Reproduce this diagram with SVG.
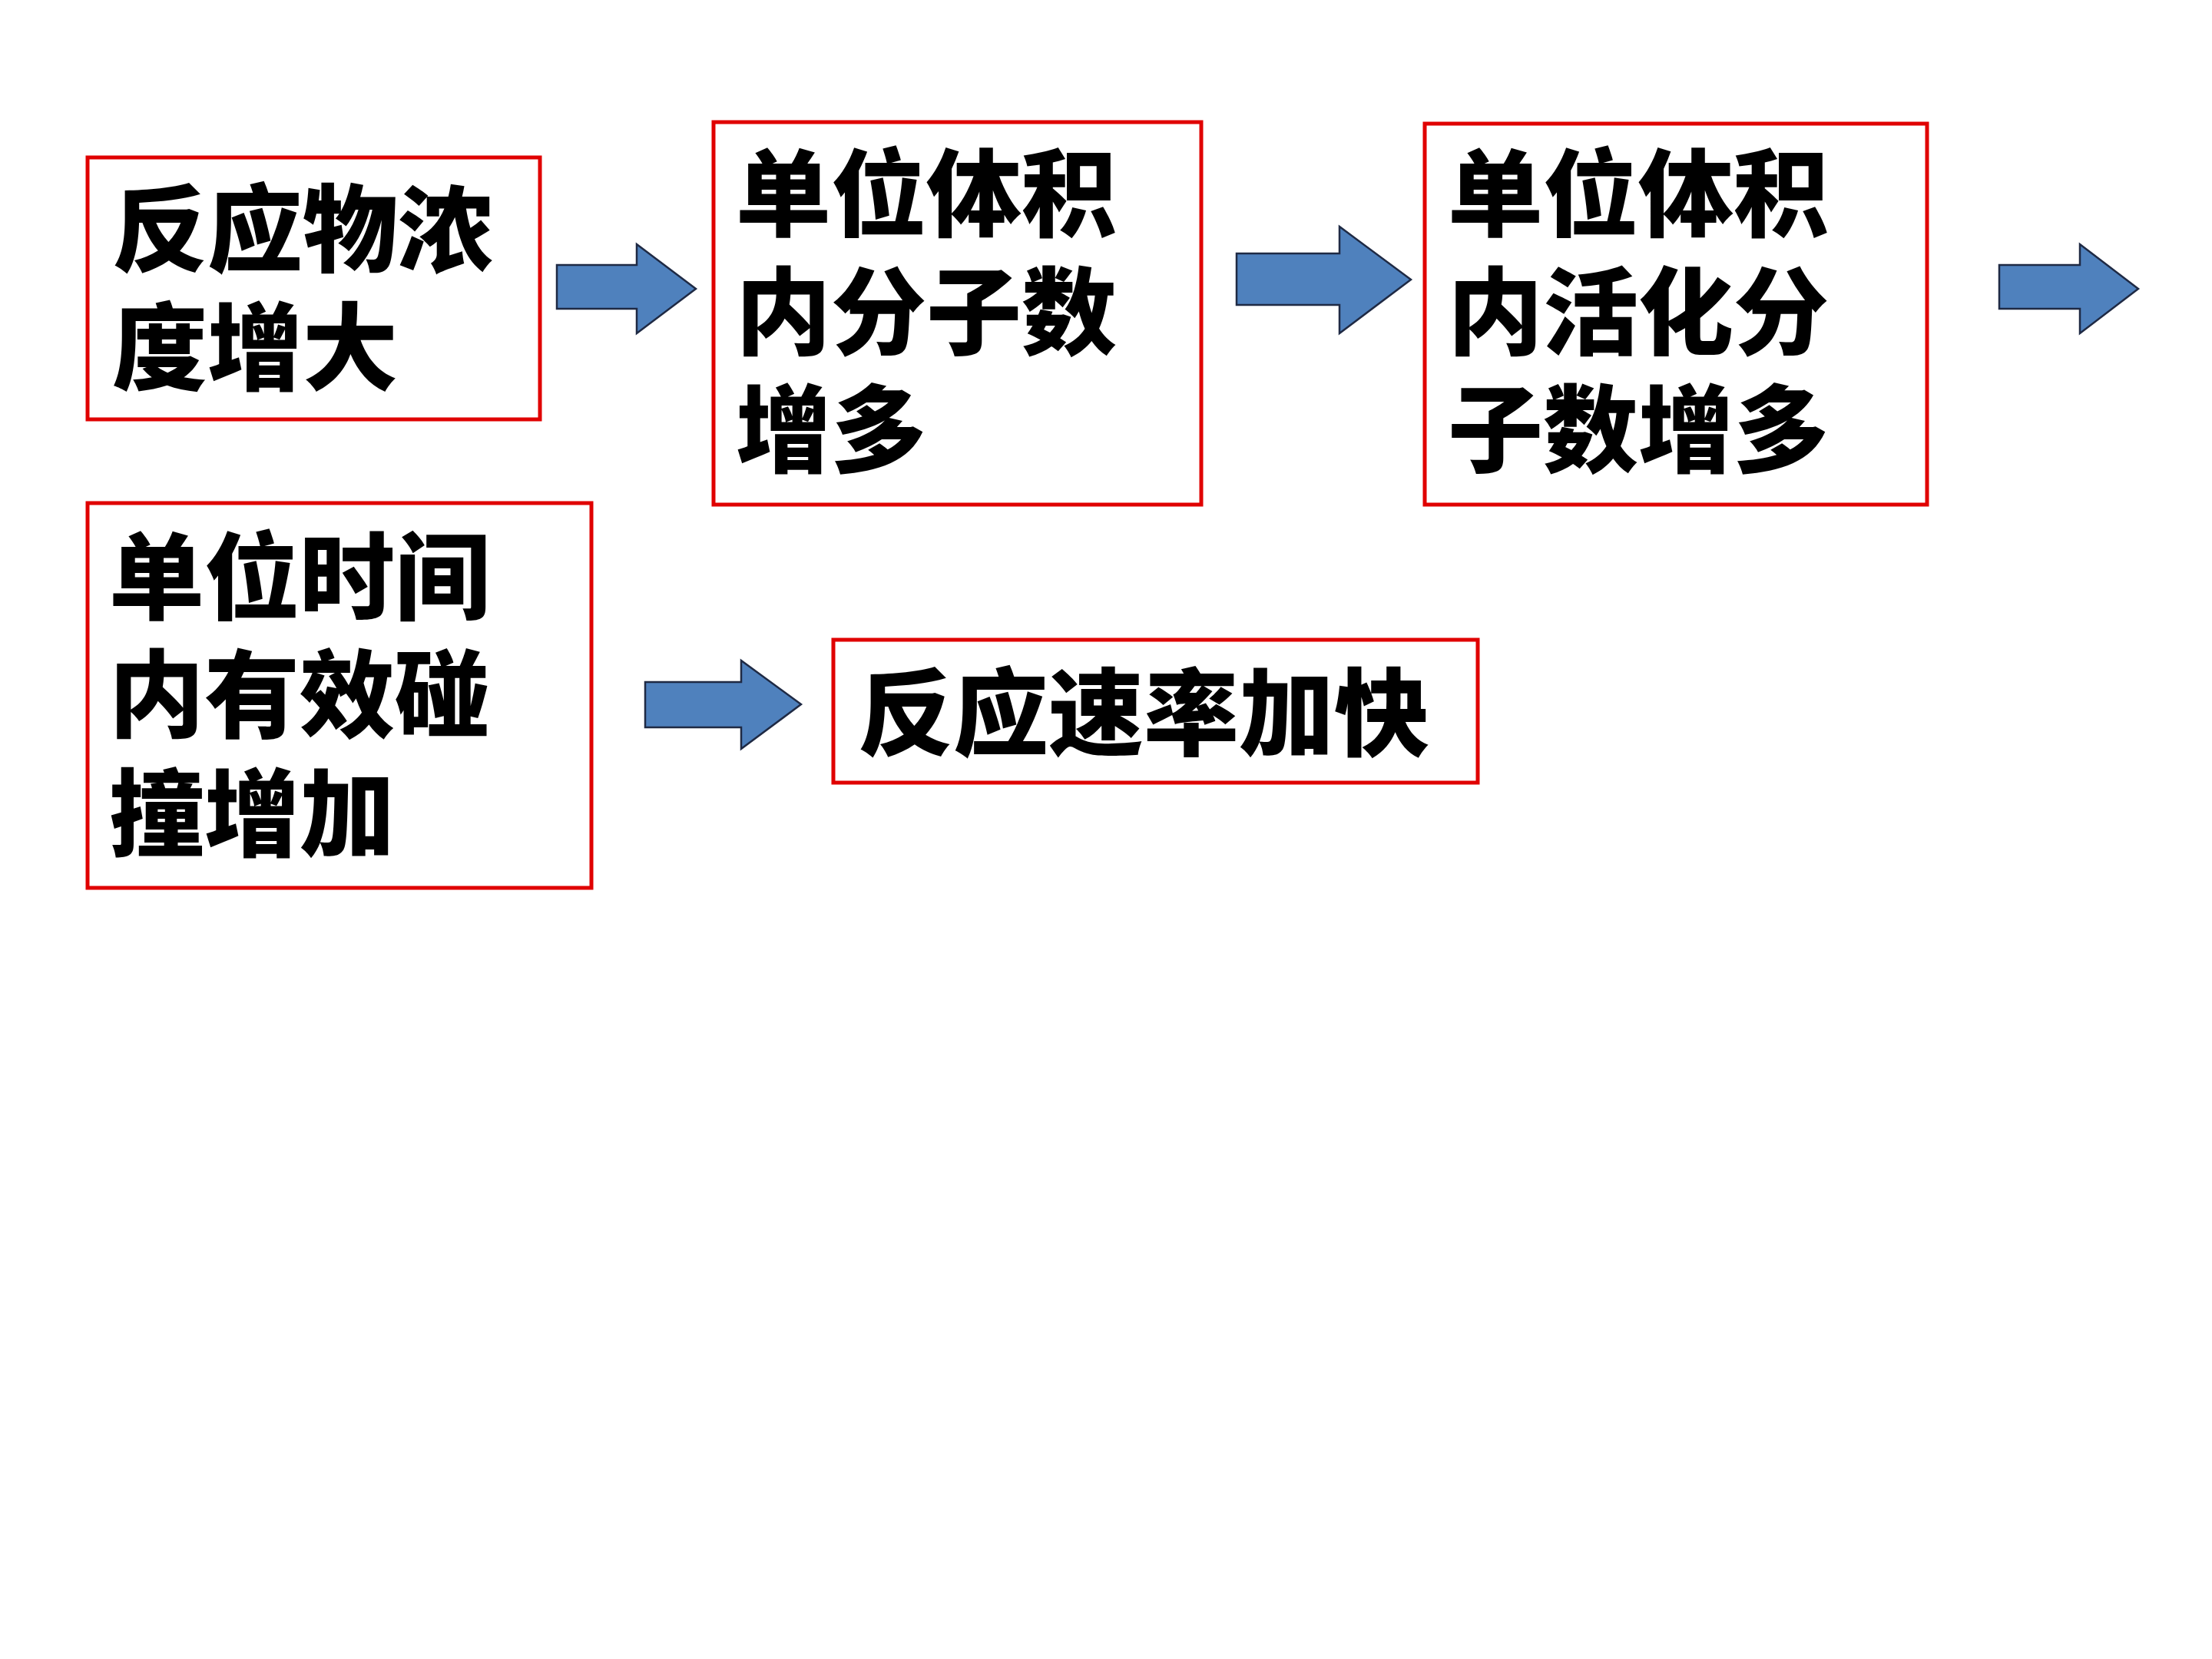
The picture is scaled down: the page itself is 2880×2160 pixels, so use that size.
<svg xmlns="http://www.w3.org/2000/svg" width="2880" height="2160" viewBox="0 0 2880 2160">
<style>
.box{fill:#fff;stroke:#e00000;stroke-width:5}
.t{font-family:"Noto Sans CJK SC","Noto Sans",sans-serif;font-weight:900;font-size:124px;fill:#000}
.ar{fill:#4f81bd;stroke:#1f2a44;stroke-width:2.5}
</style>
<rect width="2880" height="2160" fill="#fff"/>
<g id="n1"><rect class="box" x="114" y="205" width="589" height="341"/>
<text class="t" x="146" y="344">反应物浓</text><text class="t" x="146" y="498">度增大</text></g>
<g id="n2"><rect class="box" x="929" y="159" width="635" height="498"/>
<text class="t" x="958" y="298">单位体积</text><text class="t" x="958" y="452">内分子数</text><text class="t" x="958" y="605">增多</text></g>
<g id="n3"><rect class="box" x="1855" y="161" width="654" height="496"/>
<text class="t" x="1885" y="298">单位体积</text><text class="t" x="1885" y="452">内活化分</text><text class="t" x="1885" y="605">子数增多</text></g>
<g id="n4"><rect class="box" x="114" y="655" width="656" height="501"/>
<text class="t" x="142" y="797">单位时间</text><text class="t" x="142" y="950">内有效碰</text><text class="t" x="142" y="1105">撞增加</text></g>
<g id="n5"><rect class="box" x="1085" y="833" width="839" height="186"/>
<text class="t" x="1117" y="974">反应速率加快</text></g>
<g id="connectors">
<polygon class="ar" points="725,345 829,345 829,318 906,376 829,434 829,402 725,402"/>
<polygon class="ar" points="1610,330 1744,330 1744,295 1837,364 1744,434 1744,397 1610,397"/>
<polygon class="ar" points="2603,345 2708,345 2708,318 2784,376 2708,434 2708,402 2603,402"/>
<polygon class="ar" points="840,888 965,888 965,860 1043,917 965,975 965,947 840,947"/>
</g>
</svg>
